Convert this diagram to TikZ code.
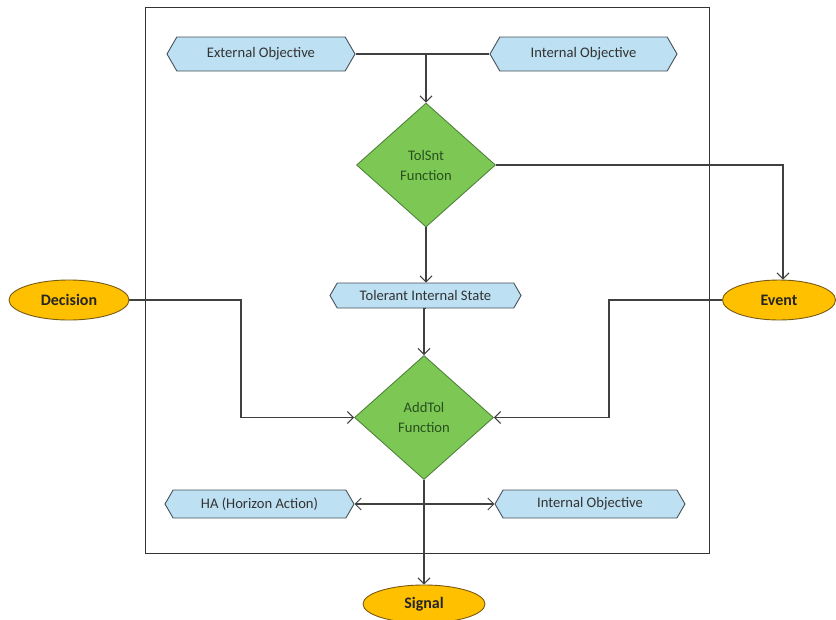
\documentclass[tikz,border=0pt]{standalone}
\usepackage{fontspec}
\setmainfont{Carlito}
\usetikzlibrary{shapes.geometric,shapes.symbols,arrows.meta}

\definecolor{hexfill}{RGB}{189,224,242}
\definecolor{hexline}{RGB}{70,80,90}
\definecolor{diafill}{RGB}{125,200,85}
\definecolor{dialine}{RGB}{80,130,60}
\definecolor{diatext}{RGB}{40,80,30}
\definecolor{ellfill}{RGB}{255,192,0}
\definecolor{ellline}{RGB}{120,90,20}
\definecolor{wire}{RGB}{64,64,64}

\tikzset{
  hexbox/.style={signal, signal to=west and east, signal pointer angle=120,
    draw=hexline, fill=hexfill, line width=0.9pt, text=black!80,
    minimum height=#1, inner sep=0pt, font=\fontsize{14.6}{16}\selectfont},
  hexbox/.default=34pt,
  decision/.style={diamond, draw=dialine, fill=diafill, line width=0.9pt,
    minimum width=139pt, minimum height=124pt, inner sep=0pt, text=diatext,
    align=center, font=\fontsize{14.6}{20}\selectfont},
  terminal/.style={ellipse, draw=ellline, fill=ellfill, line width=0.9pt,
    minimum width=120pt, minimum height=40pt, inner sep=0pt,
    font=\bfseries\fontsize{16}{18}\selectfont, text=black!85},
  wire/.style={draw=wire, line width=1.1pt},
  flow/.style={wire, -{Straight Barb[length=6pt,width=12pt,line width=1pt]}},
}

\begin{document}
\begin{tikzpicture}[x=1pt,y=-1pt]
  \useasboundingbox (0,0) rectangle (836,619);

  % system frame
  \draw[draw=black!80, line width=1pt] (145,7) rectangle (709,553);

  % objectives at the top
  \node[hexbox, minimum width=188pt] (extobj) at (261,54) {External Objective};
  \node[hexbox, minimum width=187pt] (intobj) at (583.5,54) {Internal Objective};

  % TolSnt decision
  \node[decision] (tolsnt) at (426,165) {TolSnt\\Function};

  % tolerant internal state
  \node[hexbox=25pt, minimum width=191pt] (tis) at (425.5,295.5) {Tolerant Internal State};

  % AddTol decision
  \node[decision] (addtol) at (424,417.5) {AddTol\\Function};

  % external terminals
  \node[terminal] (decision) at (69,300) {Decision};
  \node[terminal, minimum width=113pt] (event) at (779,300) {Event};
  \node[terminal, minimum width=122pt, minimum height=38pt] (signal) at (424,604) {Signal};

  % bottom objects
  \node[hexbox=28pt, minimum width=189pt] (ha) at (259.5,504) {HA (Horizon Action)};
  \node[hexbox=28pt, minimum width=190pt] (intobj2) at (590,504) {Internal Objective};

  % connectors
  \coordinate (join) at (tolsnt.north |- extobj.east);
  \draw[wire] (extobj.east) -- (intobj.west);
  \draw[flow] (join) -- (tolsnt.north);

  \draw[flow] (tolsnt.east) -| (event.north -| 783,0);
  \draw[flow] (tolsnt.south) -- (tolsnt.south |- tis.north);
  \draw[flow] (tis.south) -- (tis.south -| addtol.north) -- (addtol.north);

  \coordinate (dturn) at (241,300);
  \draw[flow] (decision.east) -- (dturn) |- (addtol.west);
  \coordinate (eturn) at (609,300);
  \draw[flow] (event.west) -- (eturn) |- (addtol.east);

  \draw[flow] (addtol.south) -- (signal.north);
  \draw[wire, {Straight Barb[length=6pt,width=12pt,line width=1pt]}-{Straight Barb[length=6pt,width=12pt,line width=1pt]}]
    (ha.east) -- (intobj2.west);
\end{tikzpicture}
\end{document}
